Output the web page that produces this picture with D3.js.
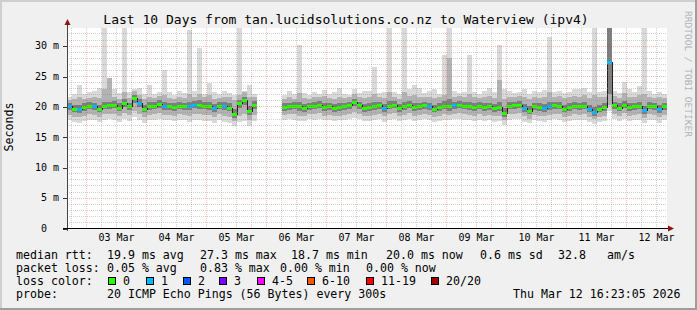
<!DOCTYPE html>
<html>
<head>
<meta charset="utf-8">
<script src="https://cdnjs.cloudflare.com/ajax/libs/d3/7.8.5/d3.min.js"></script>
<style>
  body { margin: 0; background: #f0f0f0; }
  text { font-family: "DejaVu Sans Mono", monospace; }
</style>
</head>
<body>
<div id="chart"></div>
<script>
var svgWidth = 697;
var svgHeight = 310;

// plot area in pixels
var plot = { left: 67, right: 667, top: 28, bottom: 228 };

// time range of the graph (last 10 days), 2 hour consolidation steps
var startTime = new Date(2026, 2, 2, 16, 23, 5);
var endTime = new Date(2026, 2, 12, 16, 23, 5);
var stepHours = 2;

// median rtt per step (ms), null = no data
var median = [
  20.0, 19.6, 19.5, 19.9, 20.1, 20.0, 19.6, 20.1, 20.2, 20.3, 19.8, 20.6, 20.0, 21.4, 20.6, 19.6, 20.0, 20.1, 20.4, 20.0,
  20.0, 19.9, 20.1, 20.0, 20.0, 20.3, 20.3, 20.1, 20.0, 19.7, 20.1, 20.0, 19.8, 18.7, 20.5, 21.0, 19.2, 20.3, null, null,
  null, null, null, 19.9, 20.0, 20.1, 20.0, 19.7, 20.0, 20.1, 20.3, 19.9, 20.0, 19.7, 19.9, 20.0, 20.2, 20.7, 20.2, 19.7,
  19.9, 20.0, 20.2, 19.7, 20.1, 20.3, 19.7, 20.0, 20.3, 19.9, 20.0, 20.2, 20.0, 19.6, 19.9, 20.1, 20.0, 20.2, 20.3, 20.1,
  20.0, 19.9, 20.1, 19.9, 20.0, 19.7, 19.9, 18.9, 20.1, 20.2, 20.3, 19.7, 19.3, 20.0, 19.9, 19.7, 20.0, 20.2, 20.1, 19.6,
  19.9, 20.1, 20.0, 20.1, 19.6, 19.1, 19.6, 19.9, 27.3, 20.2, 19.8, 20.3, 19.9, 20.0, 20.1, 19.4, 20.1, 20.0, 19.5, 20.0
];

// lost pings (of 20) per step
var lossCount = [
  1, 0, 1, 0, 0, 1, 0, 0, 0, 0, 0, 0, 0, 0, 1, 0, 0, 0, 0, 1,
  0, 0, 0, 0, 1, 1, 0, 0, 0, 1, 0, 1, 0, 0, 0, 0, 0, 0, null, null,
  null, null, null, 0, 0, 0, 0, 0, 0, 0, 0, 0, 0, 0, 0, 0, 0, 0, 0, 0,
  0, 0, 0, 1, 0, 0, 0, 0, 0, 0, 0, 0, 1, 0, 0, 0, 0, 1, 0, 0,
  0, 0, 0, 0, 0, 0, 0, 0, 0, 0, 0, 1, 0, 0, 0, 1, 1, 0, 0, 0,
  0, 0, 0, 0, 1, 1, 0, 0, 1, 0, 0, 0, 0, 0, 0, 1, 0, 0, 1, 0
];

// smoke: ping distribution per step (ms)
var pingMax = [
  21.5, 22.0, 23.5, 22.0, 22.3, 22.6, 23.0, 34.0, 24.7, 22.8, 22.2, 34.0, 22.4, 22.8, 23.0, 22.1, 23.6, 22.0, 22.4, 26.0,
  22.3, 21.9, 22.5, 22.2, 32.5, 22.6, 29.6, 22.1, 23.8, 22.4, 22.0, 22.6, 22.2, 21.8, 34.0, 22.5, 23.5, 22.0, null, null,
  null, null, null, 21.8, 22.5, 22.0, 30.1, 22.2, 21.9, 22.4, 22.1, 22.7, 22.0, 22.3, 23.0, 22.1, 21.9, 22.8, 22.2, 22.5,
  22.6, 26.5, 22.2, 22.4, 34.0, 22.3, 22.0, 34.0, 22.8, 23.6, 23.0, 22.2, 22.6, 22.8, 22.1, 28.5, 34.0, 22.5, 22.2, 22.4,
  28.4, 22.3, 22.0, 22.6, 23.0, 22.4, 30.1, 22.8, 22.5, 22.2, 22.4, 22.9, 22.1, 22.5, 22.3, 22.7, 31.4, 22.4, 22.6, 22.2,
  22.4, 22.9, 22.8, 23.0, 22.3, 34.0, 22.4, 22.6, 34.0, 22.5, 22.2, 24.0, 22.8, 22.3, 23.4, 34.0, 22.6, 22.1, 22.3, 22.0
];
var pingHi = [
  21.0, 21.3, 21.6, 21.2, 21.4, 21.5, 21.4, 22.8, 24.7, 21.6, 21.3, 22.4, 21.4, 22.6, 21.9, 21.2, 21.5, 21.4, 21.7, 21.8,
  21.4, 21.3, 21.6, 21.4, 22.0, 21.6, 22.1, 21.5, 21.8, 21.3, 21.4, 21.5, 21.6, 21.0, 21.9, 22.4, 21.5, 21.6, null, null,
  null, null, null, 21.2, 21.5, 21.3, 22.2, 21.4, 21.3, 21.6, 21.5, 21.7, 21.4, 21.3, 21.6, 21.4, 21.5, 22.0, 21.6, 21.4,
  21.5, 22.0, 21.6, 21.4, 22.4, 21.5, 21.3, 22.3, 21.7, 21.8, 21.6, 21.5, 21.6, 21.4, 21.5, 21.9, 28.0, 21.6, 21.7, 21.5,
  22.0, 21.5, 21.4, 21.6, 21.7, 21.4, 24.3, 21.2, 21.6, 21.5, 21.7, 21.6, 21.3, 21.5, 21.4, 21.6, 22.3, 21.6, 21.7, 21.4,
  21.5, 21.7, 21.6, 21.8, 21.4, 21.9, 21.5, 21.6, 34.0, 21.7, 21.4, 22.2, 21.6, 21.5, 21.9, 22.0, 21.6, 21.4, 21.5, 21.4
];
var pingQ3 = [
  20.6, 20.3, 20.2, 20.5, 20.7, 20.6, 20.3, 20.8, 20.8, 20.9, 20.5, 21.2, 20.6, 21.9, 21.2, 20.3, 20.7, 20.7, 21.0, 20.7,
  20.6, 20.5, 20.8, 20.6, 20.8, 20.9, 21.0, 20.7, 20.7, 20.4, 20.7, 20.7, 20.5, 19.6, 21.1, 21.6, 20.0, 20.9, null, null,
  null, null, null, 20.5, 20.6, 20.7, 20.8, 20.4, 20.6, 20.7, 20.9, 20.5, 20.6, 20.4, 20.5, 20.6, 20.8, 21.3, 20.8, 20.4,
  20.5, 20.8, 20.8, 20.4, 20.9, 20.9, 20.4, 20.8, 20.9, 20.6, 20.6, 20.8, 20.6, 20.3, 20.5, 20.9, 21.2, 20.8, 20.9, 20.7,
  20.8, 20.5, 20.7, 20.5, 20.6, 20.4, 20.8, 19.8, 20.7, 20.8, 20.9, 20.4, 20.1, 20.6, 20.5, 20.4, 20.8, 20.8, 20.7, 20.3,
  20.5, 20.7, 20.6, 20.8, 20.3, 19.9, 20.3, 20.5, 33.0, 20.8, 20.5, 20.9, 20.5, 20.6, 20.7, 20.1, 20.7, 20.6, 20.2, 20.6
];
var pingQ1 = [
  19.4, 19.0, 18.9, 19.3, 19.5, 19.4, 19.0, 19.5, 19.6, 19.7, 19.2, 19.9, 19.4, 20.5, 19.9, 19.0, 19.4, 19.5, 19.8, 19.4,
  19.4, 19.3, 19.5, 19.4, 19.4, 19.7, 19.6, 19.5, 19.4, 19.1, 19.5, 19.4, 19.2, 18.1, 19.8, 20.2, 18.6, 19.6, null, null,
  null, null, null, 19.3, 19.4, 19.5, 19.3, 19.1, 19.4, 19.5, 19.7, 19.3, 19.4, 19.1, 19.3, 19.4, 19.6, 20.0, 19.6, 19.1,
  19.3, 19.4, 19.6, 19.1, 19.5, 19.7, 19.1, 19.4, 19.7, 19.3, 19.4, 19.6, 19.4, 19.0, 19.3, 19.5, 19.3, 19.6, 19.7, 19.5,
  19.4, 19.3, 19.5, 19.3, 19.4, 19.1, 19.3, 18.3, 19.5, 19.6, 19.7, 19.1, 18.7, 19.4, 19.3, 19.1, 19.4, 19.6, 19.5, 19.0,
  19.3, 19.5, 19.4, 19.5, 19.0, 18.5, 19.0, 19.3, 22.0, 19.6, 19.2, 19.7, 19.3, 19.4, 19.5, 18.8, 19.5, 19.4, 18.9, 19.4
];
var pingLo = [
  18.6, 18.3, 18.2, 18.5, 18.7, 18.6, 18.3, 18.7, 18.8, 18.8, 18.4, 18.9, 18.6, 19.2, 18.8, 18.2, 18.6, 18.7, 18.9, 18.6,
  18.6, 18.5, 18.7, 18.6, 18.5, 18.8, 18.7, 18.6, 18.6, 18.3, 18.7, 18.5, 18.3, 17.6, 18.5, 18.8, 17.7, 18.6, null, null,
  null, null, null, 18.6, 18.7, 18.7, 18.5, 18.4, 18.7, 18.7, 18.9, 18.5, 18.6, 18.4, 18.5, 18.6, 18.8, 19.0, 18.8, 18.4,
  18.5, 18.6, 18.8, 18.4, 18.7, 18.9, 18.4, 18.6, 18.9, 18.5, 18.6, 18.8, 18.6, 18.3, 18.5, 18.7, 18.6, 18.8, 18.9, 18.7,
  18.6, 18.5, 18.7, 18.5, 18.6, 18.4, 18.5, 17.7, 18.7, 18.8, 18.9, 18.4, 18.0, 18.6, 18.5, 18.4, 18.6, 18.8, 18.7, 18.3,
  18.5, 18.7, 18.6, 18.7, 18.3, 17.9, 18.3, 18.5, 20.2, 18.8, 18.5, 18.9, 18.5, 18.6, 18.7, 18.1, 18.7, 18.6, 18.2, 18.6
];
var pingMin = [
  17.7, 17.4, 17.3, 17.6, 17.8, 17.7, 17.4, 17.8, 17.9, 17.8, 17.5, 17.9, 17.6, 18.2, 17.8, 17.3, 17.7, 17.8, 18.0, 17.7,
  17.7, 17.6, 17.8, 17.7, 17.5, 17.8, 17.7, 17.6, 17.6, 17.3, 17.7, 17.5, 17.2, 16.8, 17.4, 17.6, 16.7, 17.6, null, null,
  null, null, null, 17.8, 17.9, 17.8, 17.6, 17.6, 17.9, 17.8, 18.0, 17.7, 17.8, 17.6, 17.7, 17.8, 17.9, 18.1, 17.9, 17.6,
  17.6, 17.7, 17.9, 17.5, 17.8, 18.0, 17.6, 17.7, 18.0, 17.6, 17.7, 17.9, 17.7, 17.4, 17.6, 17.8, 17.7, 17.9, 18.0, 17.8,
  17.7, 17.6, 17.8, 17.6, 17.7, 17.5, 17.6, 16.9, 17.8, 17.9, 18.0, 17.5, 17.2, 17.7, 17.6, 17.5, 17.7, 17.9, 17.8, 17.4,
  17.6, 17.8, 17.7, 17.8, 17.4, 17.1, 17.4, 17.6, 19.2, 17.9, 17.6, 18.0, 17.6, 17.7, 17.8, 17.2, 17.8, 17.7, 17.3, 17.7
];

// y axis ticks (ms)
var yMajorTicks = [0, 5, 10, 15, 20, 25, 30];

// loss color legend
var lossLabels = ['0', '1', '2', '3', '4-5', '6-10', '11-19', '20/20'];
var lossColors = ['#26ff00', '#00b8ff', '#0059ff', '#7e00ff', '#ff00ff', '#ff5500', '#ff0000', '#a10000'];

var titleText = 'Last 10 Days from tan.lucidsolutions.co.nz to Waterview (ipv4)';

function lossColor(n) {
    if (n <= 3) return lossColors[n];
    if (n <= 5) return lossColors[4];
    if (n <= 10) return lossColors[5];
    if (n < 20) return lossColors[6];
    return lossColors[7];
}

var svg = d3.select('#chart')
    .append('svg')
    .attr('width', svgWidth)
    .attr('height', svgHeight);

// background + 3d frame
svg.append('rect')
    .attr('width', svgWidth)
    .attr('height', svgHeight)
    .attr('fill', '#f0f0f0');
svg.append('path')
    .attr('d', `M0,${svgHeight} V0 H${svgWidth} V2 H2 V${svgHeight - 2} H0 Z`)
    .attr('fill', '#cfcfcf');
svg.append('path')
    .attr('d', `M${svgWidth},0 V${svgHeight} H0 V${svgHeight - 2} H${svgWidth - 2} V0 Z`)
    .attr('fill', '#9e9e9e');

// canvas
svg.append('rect')
    .attr('x', plot.left)
    .attr('y', plot.top)
    .attr('width', plot.right - plot.left)
    .attr('height', plot.bottom - plot.top)
    .attr('fill', '#ffffff');

var xScale = d3.scaleTime()
    .domain([startTime, endTime])
    .range([plot.left, plot.right]);

var yScale = d3.scaleLinear()
    .domain([0, 32.9])
    .range([plot.bottom, plot.top]);

var slots = median.map(function (m, i) {
    return {
        t0: d3.timeHour.offset(startTime, i * stepHours),
        t1: d3.timeHour.offset(startTime, (i + 1) * stepHours),
        med: m,
        loss: lossCount[i],
        min: pingMin[i], lo: pingLo[i], q1: pingQ1[i],
        q3: pingQ3[i], hi: pingHi[i], max: pingMax[i]
    };
}).filter(d => d.t1 <= endTime);

svg.append('clipPath')
    .attr('id', 'plotClip')
    .append('rect')
    .attr('x', plot.left)
    .attr('y', plot.top)
    .attr('width', plot.right - plot.left)
    .attr('height', plot.bottom - plot.top);

var chartGroup = svg.append('g')
    .attr('clip-path', 'url(#plotClip)')
    .attr('shape-rendering', 'crispEdges');

// smoke layers, outer to inner
var bands = [
    ['min', 'max', '#d9d9d9'],
    ['lo', 'hi', '#b2b2b2'],
    ['q1', 'q3', '#7e7e7e']
];

bands.forEach(function (b) {
    chartGroup.append('g')
        .selectAll('rect')
        .data(slots.filter(d => d.med !== null))
        .enter()
        .append('rect')
        .attr('x', d => xScale(d.t0))
        .attr('width', d => xScale(d.t1) - xScale(d.t0))
        .attr('y', d => yScale(d[b[1]]))
        .attr('height', d => yScale(d[b[0]]) - yScale(d[b[1]]))
        .attr('fill', b[2]);
});

// median line (black) + loss coloured band
var medLine = d3.line()
    .defined(d => d.med !== null)
    .x(d => xScale(d.t0))
    .y(d => Math.round(yScale(d.med)) + 0.5)
    .curve(d3.curveStepAfter);

chartGroup.append('path')
    .attr('d', medLine(slots))
    .attr('fill', 'none')
    .attr('stroke', '#202020')
    .attr('stroke-width', 1);

chartGroup.append('g')
    .selectAll('rect')
    .data(slots.filter(d => d.med !== null))
    .enter()
    .append('rect')
    .attr('x', d => xScale(d.t0))
    .attr('width', d => xScale(d.t1) - xScale(d.t0))
    .attr('y', d => Math.round(yScale(d.med)) - 1)
    .attr('height', 3)
    .attr('fill', d => lossColor(d.loss));

// grid on top (rrdtool style dotted)
var gridGroup = svg.append('g').attr('shape-rendering', 'crispEdges');
var minorColor = 'rgba(140,140,140,0.4)';
var majorColor = 'rgba(235,0,0,0.26)';

var minorY = d3.range(1, 33).filter(v => v % 5 !== 0);
gridGroup.selectAll('.minorY')
    .data(minorY)
    .enter()
    .append('line')
    .attr('x1', plot.left)
    .attr('x2', plot.right)
    .attr('y1', d => Math.round(yScale(d)) + 0.5)
    .attr('y2', d => Math.round(yScale(d)) + 0.5)
    .attr('stroke', minorColor)
    .attr('stroke-dasharray', '1,1');

var days = d3.timeDay.range(startTime, endTime);
var quarterDays = d3.timeHour.every(6).range(startTime, endTime)
    .filter(d => d.getHours() !== 0);

gridGroup.selectAll('.minorX')
    .data(quarterDays)
    .enter()
    .append('line')
    .attr('x1', d => Math.round(xScale(d)) + 0.5)
    .attr('x2', d => Math.round(xScale(d)) + 0.5)
    .attr('y1', plot.top)
    .attr('y2', plot.bottom)
    .attr('stroke', minorColor)
    .attr('stroke-dasharray', '1,1');

gridGroup.selectAll('.majorY')
    .data(yMajorTicks.filter(v => v > 0))
    .enter()
    .append('line')
    .attr('x1', plot.left)
    .attr('x2', plot.right)
    .attr('y1', d => Math.round(yScale(d)) + 0.5)
    .attr('y2', d => Math.round(yScale(d)) + 0.5)
    .attr('stroke', majorColor)
    .attr('stroke-dasharray', '1,1');

gridGroup.selectAll('.majorX')
    .data(days)
    .enter()
    .append('line')
    .attr('x1', d => Math.round(xScale(d)) + 0.5)
    .attr('x2', d => Math.round(xScale(d)) + 0.5)
    .attr('y1', plot.top)
    .attr('y2', plot.bottom)
    .attr('stroke', majorColor)
    .attr('stroke-dasharray', '1,1');

// axes
var noons = days.map(d => d3.timeHour.offset(d, 12));
var bottomAxis = d3.axisBottom(xScale)
    .tickValues(noons)
    .tickFormat(d3.timeFormat('%d %b'))
    .tickSize(0)
    .tickPadding(6);

var xAxis = svg.append('g')
    .attr('transform', `translate(0, ${plot.bottom})`)
    .call(bottomAxis);
xAxis.select('.domain').remove();
xAxis.selectAll('text')
    .attr('font-family', '"DejaVu Sans Mono", monospace')
    .attr('font-size', 10)
    .attr('fill', '#000');

var leftAxis = d3.axisLeft(yScale)
    .tickValues(yMajorTicks)
    .tickFormat(v => v === 0 ? '0\u00a0\u00a0' : v + '\u00a0m')
    .tickSize(4)
    .tickPadding(4);

var yAxis = svg.append('g')
    .attr('transform', `translate(${plot.left}, 0)`)
    .attr('shape-rendering', 'crispEdges')
    .call(leftAxis);
yAxis.select('.domain').remove();
yAxis.selectAll('line').attr('stroke', '#333').attr('transform', 'translate(0,0.5)');
yAxis.selectAll('text')
    .attr('font-family', '"DejaVu Sans Mono", monospace')
    .attr('font-size', 10)
    .attr('fill', '#000');

// axis lines with arrows
svg.append('line')
    .attr('x1', plot.left + 0.5).attr('x2', plot.left + 0.5)
    .attr('y1', plot.bottom + 3).attr('y2', plot.top - 6)
    .attr('stroke', '#444');
svg.append('line')
    .attr('x1', plot.left - 4).attr('x2', plot.right + 2)
    .attr('y1', plot.bottom + 0.5).attr('y2', plot.bottom + 0.5)
    .attr('stroke', '#000');
svg.append('path')
    .attr('d', `M${plot.left + 0.5},${plot.top - 9} l-3,6 h6 z`)
    .attr('fill', '#8e1414');
svg.append('path')
    .attr('d', `M${plot.right + 7},${plot.bottom + 0.5} l-6,-3 v6 z`)
    .attr('fill', '#8e1414');

// title and side labels
svg.append('text')
    .attr('x', 346)
    .attr('y', 24)
    .attr('text-anchor', 'middle')
    .attr('font-size', 13)
    .text(titleText);

svg.append('text')
    .attr('transform', 'translate(13, 127) rotate(-90)')
    .attr('text-anchor', 'middle')
    .attr('font-size', 11.6)
    .text('Seconds');

svg.append('text')
    .attr('transform', 'translate(685, 74) rotate(90)')
    .attr('text-anchor', 'middle')
    .attr('font-size', 9.5)
    .attr('fill', '#b0b0b0')
    .text('RRDTOOL / TOBI OETIKER');

// legend
var legendFont = 11.6;
var legendRows = [
    { y: 259, items: [['median rtt:', 16], ['19.9 ms avg', 107], ['27.3 ms max', 200], ['18.7 ms min', 291],
        ['20.0 ms now', 386], ['0.6 ms sd', 480], ['32.8', 558], ['am/s', 607]] },
    { y: 272, items: [['packet loss:', 16], ['0.05 % avg', 107], ['0.83 % max', 200], ['0.00 % min', 280],
        ['0.00 % now', 366]] },
    { y: 285, items: [['loss color:', 16]] },
    { y: 298, items: [['probe:', 16], ['20 ICMP Echo Pings (56 Bytes) every 300s', 107],
        ['Thu Mar 12 16:23:05 2026', 513]] }
];

legendRows.forEach(function (row) {
    row.items.forEach(function (it) {
        svg.append('text')
            .attr('x', it[1])
            .attr('y', row.y)
            .attr('font-size', legendFont)
            .text(it[0]);
    });
});

var swatchX = [108, 146, 183, 219, 257, 307, 366, 431];
var swatch = svg.append('g').selectAll('g')
    .data(lossLabels)
    .enter()
    .append('g')
    .attr('transform', (d, i) => `translate(${swatchX[i]}, 277)`);

swatch.append('rect')
    .attr('x', 0.5).attr('y', 0.5)
    .attr('width', 7).attr('height', 7)
    .attr('fill', (d, i) => lossColors[i])
    .attr('stroke', '#000');

swatch.append('text')
    .attr('x', 15)
    .attr('y', 8)
    .attr('font-size', legendFont)
    .text(d => d);
</script>
</body>
</html>
